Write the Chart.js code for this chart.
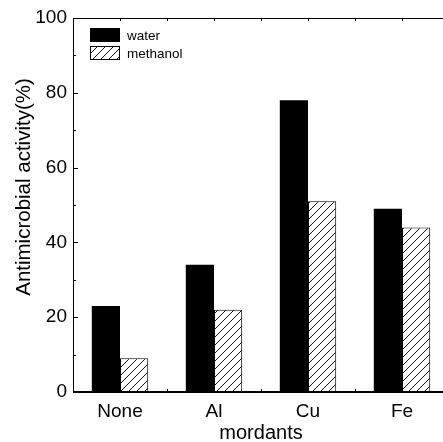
<!DOCTYPE html>
<html>
<head>
<meta charset="utf-8">
<script src="https://cdn.jsdelivr.net/npm/chart.js@4/dist/chart.umd.min.js"></script>
<style>
  html, body { margin: 0; padding: 0; background: #fff; overflow: hidden; }
  #wrap { width: 443px; height: 442px; overflow: hidden; position: relative; }
  #box { width: 455px; height: 442px; position: absolute; left: 0; top: 0; }
</style>
</head>
<body>
<div id="wrap"><div id="box"><canvas id="chart"></canvas></div></div>
<script>
const categories = ["None", "Al", "Cu", "Fe"];
const waterValues = [23, 34, 78, 49];
const methanolValues = [9, 22, 51, 44];
const yTicks = [0, 20, 40, 60, 80, 100];
const yTitle = "Antimicrobial activity(%)";
const FONT = "'Liberation Sans', Arial, sans-serif";

// "/" hatch, 8px apart
function makeHatch() {
    const size = 16;
    const c = document.createElement("canvas");
    c.width = size;
    c.height = size;
    const g = c.getContext("2d");
    g.fillStyle = "#fff";
    g.fillRect(0, 0, size, size);
    g.strokeStyle = "#111";
    g.lineWidth = 1;
    g.beginPath();
    for (let k = -size; k <= 2 * size; k += 8) {
        g.moveTo(k - 2, size + 2);
        g.lineTo(k + size + 2, -2);
    }
    g.stroke();
    return g.createPattern(c, "repeat");
}
const hatch = makeHatch();

const framePlugin = {
    id: "frame",
    afterDraw(chart) {
        const ctx = chart.ctx;
        const a = chart.chartArea;
        const x = chart.scales.x;
        const y = chart.scales.y;
        ctx.save();
        ctx.strokeStyle = "#000";
        ctx.lineWidth = 1;
        ctx.beginPath();
        ctx.moveTo(a.left + 0.5, a.top);
        ctx.lineTo(a.left + 0.5, a.bottom);
        ctx.moveTo(a.left, a.top + 0.5);
        ctx.lineTo(a.right, a.top + 0.5);
        ctx.stroke();
        ctx.lineWidth = 2;
        ctx.beginPath();
        ctx.moveTo(a.left, a.bottom);
        ctx.lineTo(a.right, a.bottom);
        ctx.stroke();

        // y ticks, inward
        ctx.lineWidth = 1;
        ctx.beginPath();
        for (let v = 0; v <= 100; v += 10) {
            const py = Math.round(y.getPixelForValue(v)) + 0.5;
            const len = v % 20 === 0 ? 5 : 3;
            ctx.moveTo(a.left, py);
            ctx.lineTo(a.left + len, py);
        }
        // x ticks every half category, top and bottom
        for (let i = -0.5; i <= categories.length; i += 0.5) {
            const px = Math.round(x.getPixelForValue(i)) + 0.5;
            if (px <= a.left + 1 || px > a.right) continue;
            ctx.moveTo(px, a.top);
            ctx.lineTo(px, a.top + 3);
            ctx.moveTo(px, a.bottom);
            ctx.lineTo(px, a.bottom - 3);
        }
        ctx.stroke();

        // legend in the upper left corner
        ctx.font = "13.5px " + FONT;
        ctx.textBaseline = "middle";
        chart.data.datasets.forEach((ds, k) => {
            const bx = a.left + 17;
            const by = a.top + 10 + k * 18;
            ctx.fillStyle = ds.backgroundColor;
            ctx.fillRect(bx, by, 30, 14);
            ctx.strokeStyle = "#000";
            ctx.lineWidth = 1;
            ctx.strokeRect(bx + 0.5, by + 0.5, 29, 13);
            ctx.fillStyle = "#000";
            ctx.fillText(ds.label, bx + 37, by + 8);
        });

        // y axis title
        ctx.translate(24, (a.top + a.bottom) / 2 - 18);
        ctx.rotate(-Math.PI / 2);
        ctx.font = "20.5px " + FONT;
        ctx.textAlign = "center";
        ctx.fillText(yTitle, 0, 0);
        ctx.restore();
    }
};

new Chart(document.getElementById("chart"), {
    type: "bar",
    data: {
        labels: categories,
        datasets: [
            {
                label: "water",
                data: waterValues,
                backgroundColor: "#000",
                borderColor: "#000",
                borderWidth: 0
            },
            {
                label: "methanol",
                data: methanolValues,
                backgroundColor: hatch,
                borderColor: "#000",
                borderWidth: 1
            }
        ]
    },
    options: {
        responsive: true,
        maintainAspectRatio: false,
        animation: false,
        layout: { padding: { top: 18, right: 6, left: 0, bottom: 0 } },
        datasets: { bar: { categoryPercentage: 0.6, barPercentage: 1.0 } },
        plugins: {
            legend: { display: false },
            tooltip: { enabled: false }
        },
        scales: {
            x: {
                grid: { display: false, drawTicks: false },
                border: { display: false },
                ticks: {
                    color: "#000",
                    padding: 8,
                    font: { family: FONT, size: 19 }
                },
                title: {
                    display: true,
                    text: "mordants",
                    color: "#000",
                    padding: { top: 0, bottom: -3 },
                    font: { family: FONT, size: 20 }
                },
                afterFit(scale) { scale.height = 50; }
            },
            y: {
                min: 0,
                max: 100,
                afterBuildTicks(scale) {
                    scale.ticks = yTicks.map(v => ({ value: v }));
                },
                grid: { display: false, drawTicks: false },
                border: { display: false },
                ticks: {
                    color: "#000",
                    padding: 6,
                    font: { family: FONT, size: 19 }
                },
                title: { display: false },
                afterFit(scale) { scale.width = 73; }
            }
        }
    },
    plugins: [framePlugin]
});
</script>
</body>
</html>
